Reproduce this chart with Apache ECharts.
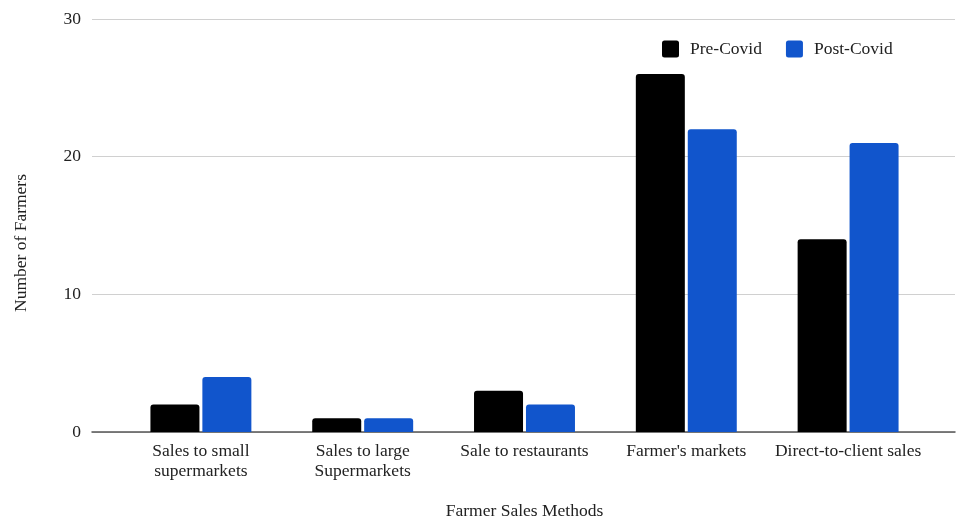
<!DOCTYPE html>
<html><head><meta charset="utf-8">
<script src="https://cdn.jsdelivr.net/npm/echarts@6/dist/echarts.min.js"></script>
<style>html,body{margin:0;padding:0;background:#fff}#c{width:957px;height:518px}</style>
</head><body><div id="c"></div>
<script>
const categories = ["Sales to small\nsupermarkets", "Sales to large\nSupermarkets", "Sale to restaurants", "Farmer's markets", "Direct-to-client sales"];
const preCovid = [2, 1, 3, 26, 14];
const postCovid = [4, 1, 2, 22, 21];
const yTicks = {min: 0, max: 30, interval: 10};
const font = "Liberation Serif";
const fs = 17.5;
const txt = '#222';
const legendIcon = 'path://M2.5,0H14.5Q17,0,17,2.5V14.5Q17,17,14.5,17H2.5Q0,17,0,14.5V2.5Q0,0,2.5,0Z';
const chart = echarts.init(document.getElementById('c'));
chart.setOption({
  animation: false,
  textStyle: {fontFamily: font},
  grid: [
    {left: 92, right: 2, top: 19, bottom: 86, containLabel: false, outerBoundsMode: 'none'},
    {left: 120, right: 28, top: 19, bottom: 86, containLabel: false, outerBoundsMode: 'none'}
  ],
  legend: {
    top: 35, left: 657, itemWidth: 17, itemHeight: 17, itemGap: 24,
    textStyle: {fontFamily: font, fontSize: fs, color: txt, padding: [0, 0, 0, 6]},
    icon: legendIcon,
    data: ['Pre-Covid', 'Post-Covid']
  },
  xAxis: [
    {gridIndex: 0, type: 'category', data: categories,
     axisLine: {lineStyle: {color: '#555', width: 1.5}},
     axisTick: {show: false}, axisLabel: {show: false}},
    {gridIndex: 1, type: 'category', data: categories,
     name: 'Farmer Sales Methods', nameLocation: 'middle', nameGap: 70,
     nameTextStyle: {fontFamily: font, fontSize: fs, color: txt},
     axisLine: {show: false}, axisTick: {show: false},
     axisLabel: {fontFamily: font, fontSize: fs, color: txt, margin: 9, lineHeight: 20, interval: 0}}
  ],
  yAxis: [
    {gridIndex: 0, type: 'value', min: yTicks.min, max: yTicks.max, interval: yTicks.interval,
     name: 'Number of Farmers', nameLocation: 'middle', nameGap: 62,
     nameTextStyle: {fontFamily: font, fontSize: fs, color: txt, padding: [0, 35, 0, 0]},
     axisLine: {show: false}, axisTick: {show: false},
     axisLabel: {fontFamily: font, fontSize: fs, color: txt, margin: 11},
     splitLine: {lineStyle: {color: '#d0d0d0', width: 1.2}}},
    {gridIndex: 1, type: 'value', min: yTicks.min, max: yTicks.max, interval: yTicks.interval,
     show: false, splitLine: {show: false}}
  ],
  series: [
    {name: 'Pre-Covid', type: 'bar', xAxisIndex: 1, yAxisIndex: 1, data: preCovid, barWidth: 49, barGap: '6%',
     itemStyle: {color: '#000000', borderRadius: [3,3,0,0]}},
    {name: 'Post-Covid', type: 'bar', xAxisIndex: 1, yAxisIndex: 1, data: postCovid, barWidth: 49,
     itemStyle: {color: '#1155cc', borderRadius: [3,3,0,0]}}
  ]
});
</script></body></html>
